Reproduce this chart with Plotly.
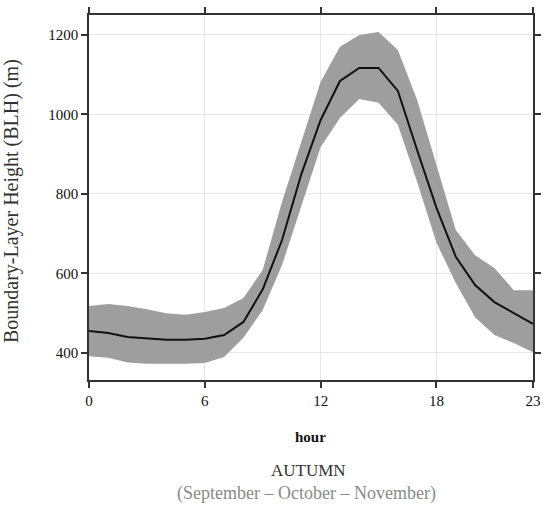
import plotly.graph_objects as go

hours = list(range(24))
blh_mean = [455, 450, 440, 437, 433, 433, 436, 445, 478, 560, 684, 850, 986, 1084, 1117, 1117, 1059, 910, 765, 642, 571, 528, 500, 473]
blh_upper = [518, 523, 518, 510, 500, 496, 503, 513, 538, 609, 780, 933, 1082, 1170, 1200, 1207, 1162, 1036, 875, 709, 646, 614, 558, 558]
blh_lower = [392, 388, 376, 373, 373, 373, 375, 390, 438, 508, 621, 770, 918, 991, 1039, 1029, 974, 830, 677, 576, 490, 445, 425, 402]

x_ticks = [0, 6, 12, 18, 23]
y_ticks = [400, 600, 800, 1000, 1200]

band = "#9e9e9e"
fig = go.Figure()
fig.add_trace(go.Scatter(x=hours, y=blh_upper, mode="lines", line=dict(width=0, color=band),
                         showlegend=False, hoverinfo="skip"))
fig.add_trace(go.Scatter(x=hours, y=blh_lower, mode="lines", line=dict(width=0, color=band),
                         fill="tonexty", fillcolor=band, showlegend=False, hoverinfo="skip"))
fig.add_trace(go.Scatter(x=hours, y=blh_mean, mode="lines", line=dict(width=2, color="#111111"),
                         showlegend=False))

serif = "Liberation Serif, Times New Roman, serif"
axis_common = dict(showline=True, linecolor="#333333", linewidth=1.5, mirror="ticks",
                   ticks="outside", ticklen=6, tickcolor="#333333", tickwidth=1.5,
                   showgrid=True, gridcolor="#e6e6e6", gridwidth=1, zeroline=False,
                   automargin=False,
                   tickfont=dict(family=serif, size=15, color="#111111"))

fig.update_xaxes(range=[0, 23], tickvals=x_ticks, **axis_common)
fig.update_yaxes(range=[332, 1250], tickvals=y_ticks, **axis_common)

fig.update_layout(
    width=548, height=512,
    margin=dict(l=89, r=15, t=15, b=132),
    plot_bgcolor="white", paper_bgcolor="white",
    annotations=[
        dict(text="Boundary-Layer Height (BLH) (m)", xref="paper", yref="paper",
             x=-0.176, y=0.49, textangle=-90, showarrow=False,
             font=dict(family=serif, size=20, color="#333333"), xanchor="center", yanchor="middle"),
        dict(text="<b>hour</b>", xref="paper", yref="paper", x=0.498, y=-0.156,
             showarrow=False, font=dict(family=serif, size=15, color="#111111"),
             xanchor="center", yanchor="middle"),
        dict(text="AUTUMN", xref="paper", yref="paper", x=0.495, y=-0.247,
             showarrow=False, font=dict(family=serif, size=17, color="#333333"),
             xanchor="center", yanchor="middle"),
        dict(text="(September – October – November)", xref="paper", yref="paper", x=0.49, y=-0.312,
             showarrow=False, font=dict(family=serif, size=18, color="#8a8a8a"),
             xanchor="center", yanchor="middle"),
    ],
)

fig.write_html("out.html")
